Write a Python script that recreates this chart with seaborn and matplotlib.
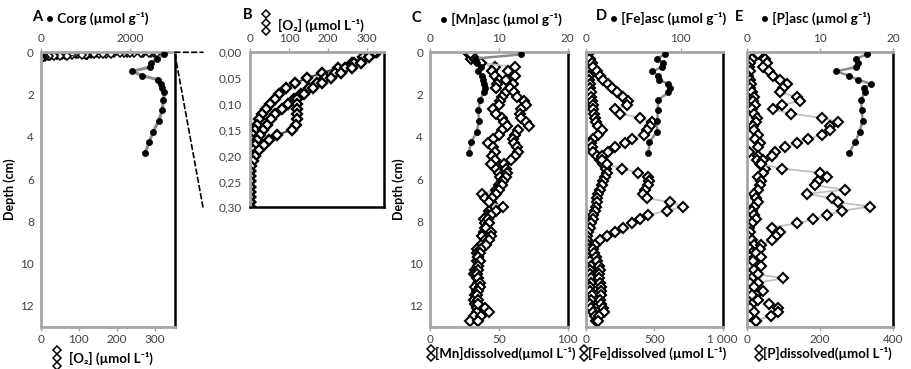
import matplotlib
matplotlib.use("Agg")
import matplotlib.pyplot as plt
from matplotlib.lines import Line2D
from matplotlib.patches import ConnectionPatch
from matplotlib.ticker import FuncFormatter
import seaborn as sns

# ---- solid phase (ascorbate extraction / Corg), depth in cm
asc_depth = [0.1, 0.3, 0.5, 0.7, 0.9, 1.1, 1.3, 1.5, 1.7, 1.9, 2.25, 2.75, 3.25, 3.75, 4.25, 4.75]
corg = [2770, 2600, 2480, 2450, 2040, 2270, 2630, 2690, 2720, 2770, 2750, 2720, 2640, 2520, 2430, 2340]
mn_asc = [13.2, 6.5, 6.8, 7.4, 6.9, 7.5, 7.7, 7.9, 8.0, 7.8, 7.3, 7.0, 7.1, 6.8, 6.0, 5.6]
fe_asc = [83, 75, 81, 80, 70, 76, 77, 87, 89, 87, 76, 76, 75, 75, 67, 66]
p_asc = [16.4, 14.9, 15.2, 14.9, 12.2, 13.9, 15.2, 17.0, 16.0, 16.1, 15.6, 15.7, 15.8, 15.4, 14.8, 14.0]

# ---- O2 microprofiles (3 replicates)
o2_depth = [0.00, 0.01, 0.02, 0.03, 0.04, 0.05, 0.06, 0.07, 0.08, 0.09, 0.10,
            0.11, 0.12, 0.13, 0.14, 0.15, 0.16, 0.17, 0.18, 0.19, 0.20,
            0.21, 0.22, 0.23, 0.24, 0.25, 0.26, 0.27, 0.28, 0.29, 0.30]
o2_1 = [326, 296, 262, 226, 185, 146, 115, 92, 75, 63, 52, 42, 32, 24, 17, 12, 8, 5, 3, 2, 1,
        1, 0, 0, 0, 0, 0, 0, 0, 0, 0]
o2_2 = [320, 290, 268, 245, 218, 193, 172, 152, 132, 112, 97, 82, 65, 55, 44, 34, 25, 18, 12, 7, 4,
        2, 1, 0, 0, 0, 0, 0, 0, 0, 0]
o2_3 = [322, 305, 285, 262, 235, 208, 185, 163, 140, 122, 120, 121, 120, 122, 118, 107, 70, 50, 35, 22, 12,
        7, 3, 1, 0, 0, 0, 0, 0, 0, 0]

# ---- porewater (dissolved), two gel profiles
pw_depth = [0.1, 0.3, 0.5, 0.7, 0.9, 1.1, 1.3, 1.5, 1.7, 1.9,
            2.1, 2.3, 2.5, 2.7, 2.9, 3.1, 3.3, 3.5, 3.7, 3.9,
            4.1, 4.3, 4.5, 4.7, 4.9, 5.1, 5.3, 5.5, 5.7, 5.9,
            6.1, 6.3, 6.5, 6.7, 6.9, 7.1, 7.3, 7.5, 7.7, 7.9,
            8.1, 8.3, 8.5, 8.7, 8.9, 9.1, 9.3, 9.5, 9.7, 9.9,
            10.1, 10.3, 10.5, 10.7, 10.9, 11.1, 11.3, 11.5, 11.7, 11.9,
            12.1, 12.3, 12.5, 12.7]
mn_1 = [28, 30, 36, 47, 45, 47, 50, 49, 48, 55,
        52, 51, 50, 46, 48, 52, 54, 56, 52, 50,
        46, 42, 46, 47, 45, 47, 44, 48, 50, 51,
        52, 50, 48, 38, 40, 44, 47, 43, 42, 39,
        40, 40, 39, 38, 40, 37, 34, 34, 35, 34,
        35, 33, 32, 34, 35, 33, 34, 33, 32, 33,
        34, 34, 32, 29]
mn_2 = [30, 33, 37, 62, 57, 62, 55, 60, 58, 61,
        63, 68, 70, 66, 65, 66, 70, 72, 64, 62,
        60, 61, 63, 64, 62, 59, 54, 55, 56, 55,
        53, 52, 50, 48, 45, 43, 53, 48, 44, 42,
        43, 41, 44, 44, 43, 41, 37, 36, 35, 36,
        35, 35, 34, 35, 36, 36, 35, 34, 35, 35,
        40, 43, 37, 35]
fe_1 = [7, 32, 19, 12, 19, 27, 27, 32, 32, 36,
        39, 44, 51, 56, 61, 68, 75, 92, 117, 92,
        56, 36, 44, 56, 80, 105, 129, 148, 153, 141,
        129, 117, 105, 92, 85, 80, 75, 68, 56, 51,
        41, 32, 19, 7, 12, 19, 27, 30, 35, 28,
        40, 35, 30, 42, 38, 30, 35, 45, 38, 30,
        40, 55, 65, 75]
fe_2 = [19, 27, 44, 56, 80, 105, 129, 165, 190, 226,
        275, 311, 299, 214, 250, 397, 482, 470, 445, 426,
        336, 287, 214, 165, 117, 117, 153, 263, 384, 457,
        465, 457, 433, 416, 450, 616, 713, 591, 457, 397,
        336, 275, 214, 158, 105, 68, 56, 60, 75, 85,
        100, 105, 100, 95, 105, 110, 115, 110, 105, 115,
        125, 130, 100, 90]
p_1 = [5, 15, 10, 5, 8, 3, 10, 12, 8, 15,
       20, 18, 22, 15, 20, 28, 25, 18, 20, 30,
       22, 35, 30, 5, 30, 28, 35, 50, 45, 30,
       40, 35, 30, 20, 25, 30, 20, 15, 20, 25,
       15, 5, 8, 3, 15, 20, 10, 15, 8, 12,
       5, 20, 10, 15, 8, 20, 10, 25, 5, 15,
       10, 20, 5, 25]
p_2 = [30, 50, 55, 45, 60, 73, 91, 110, 100, 91,
       136, 145, 95, 73, 120, 205, 250, 227, 227, 205,
       168, 136, 105, 77, 70, 45, 40, 95, 200, 218,
       195, 186, 268, 164, 232, 250, 336, 259, 218, 182,
       136, 68, 91, 80, 68, 40, 35, 25, 40, 18,
       38, 20, 30, 100, 30, 20, 45, 15, 30, 60,
       85, 85, 65, 25]

sns.set_style("white")
plt.rcParams['font.family'] = ['Lato', 'DejaVu Sans']

W, H = 912, 369
GRAY = '#a6a6a6'
LGRAY = '#c0c0c0'
TXT = '#404040'
TICK_FS = 8.5


def rect(l, t, r, b):
    return [l / W, 1 - b / H, (r - l) / W, (b - t) / H]


def diamonds(ax, x, y, lc=LGRAY, ms=4.8, mew=1.5, lw=1.3):
    sns.lineplot(x=x, y=y, sort=False, estimator=None, ax=ax, color=lc, lw=lw,
                 marker='D', markersize=ms, markerfacecolor='white',
                 markeredgecolor='black', markeredgewidth=mew)


def dots(ax, x, y, lc='#8c8c8c', lw=1.8):
    sns.lineplot(x=x, y=y, sort=False, estimator=None, ax=ax, color=lc, lw=lw,
                 marker='o', markersize=4.4, markerfacecolor='black',
                 markeredgecolor='black', markeredgewidth=0.5)


def frame(ax, bottom_black=False):
    for s in ['left', 'top', 'bottom']:
        ax.spines[s].set_color(GRAY)
        ax.spines[s].set_linewidth(2.0)
    ax.spines['right'].set_color('black')
    ax.spines['right'].set_linewidth(1.8)
    if bottom_black:
        ax.spines['bottom'].set_color('black')
        ax.spines['bottom'].set_linewidth(1.8)
    ax.tick_params(axis='both', length=3, width=1, color=GRAY, labelsize=TICK_FS,
                   labelcolor=TXT, pad=2)
    ax.set_xlabel('')
    ax.set_ylabel('')


def twin_top(ax, lim, ticks):
    axt = ax.twiny()
    for s in axt.spines.values():
        s.set_visible(False)
    axt.set_xlim(*lim)
    axt.set_xticks(ticks)
    axt.tick_params(axis='x', length=3, width=1, color=GRAY, labelsize=TICK_FS,
                    labelcolor=TXT, pad=3)
    return axt


fig = plt.figure(figsize=(W / 100, H / 100), dpi=100)

depth_ticks = [0, 2, 4, 6, 8, 10, 12]
panel_b = 327

# ---------- A
axA = fig.add_axes(rect(40.7, 52.3, 175, panel_b))
for o2 in (o2_1, o2_2, o2_3):
    diamonds(axA, o2, o2_depth, lc='#404040', ms=4.0, mew=1.1, lw=1.0)
frame(axA)
axA.set_xlim(0, 352)
axA.set_xticks([0, 100, 200, 300])
axAt = twin_top(axA, (0, 3008), [0, 2000])
dots(axAt, corg, asc_depth, lw=2.2)
axAt.set_xlabel('')
axA.set_ylim(13, 0)
axA.set_yticks(depth_ticks)
axA.set_ylabel('Depth (cm)', fontsize=9, fontweight='bold', color='black', labelpad=3)

# ---------- B
axB = fig.add_axes(rect(250, 52.3, 384.3, 207.3))
for o2 in (o2_1, o2_2, o2_3):
    diamonds(axB, o2, o2_depth, lc='#404040', ms=5.2, mew=1.7, lw=1.4)
frame(axB, bottom_black=True)
axB.set_xlim(0, 345)
axB.set_ylim(0.30, 0)
axB.set_xticks([0, 100, 200, 300])
axB.xaxis.set_ticks_position('top')
axB.tick_params(axis='x', pad=3)
axB.set_yticks([0, 0.05, 0.10, 0.15, 0.20, 0.25, 0.30])
axB.yaxis.set_major_formatter(FuncFormatter(lambda v, p: f"{v:.2f}".replace('.', ',')))
axB.tick_params(axis='y', length=0, pad=6)

# ---------- C, D, E
panels = [
    (430, 567.7, mn_1, mn_2, mn_asc, (0, 100), [0, 50, 100], ['0', '50', '100'], (0, 20), [0, 10, 20]),
    (585.7, 722.7, fe_1, fe_2, fe_asc, (0, 1000), [0, 500, 1000], ['0', '500', '1 000'], (0, 144), [0, 100]),
    (746.7, 893.3, p_1, p_2, p_asc, (0, 400), [0, 200, 400], ['0', '200', '400'], (0, 20), [0, 10, 20]),
]
for i, (l, r, d1, d2, asc, lim, ticks, labels, tlim, tticks) in enumerate(panels):
    ax = fig.add_axes(rect(l, 52.3, r, panel_b))
    diamonds(ax, d1, pw_depth)
    diamonds(ax, d2, pw_depth)
    frame(ax)
    ax.set_xlim(*lim)
    ax.set_xticks(ticks)
    ax.set_xticklabels(labels)
    axt = twin_top(ax, tlim, tticks)
    dots(axt, asc, asc_depth)
    axt.set_xlabel('')
    ax.set_ylim(13, 0)
    ax.set_yticks(depth_ticks)
    if i == 0:
        ax.set_ylabel('Depth (cm)', fontsize=9, fontweight='bold', color='black', labelpad=3)
    else:
        ax.tick_params(axis='y', labelleft=False, length=0)

# ---------- zoom connectors A -> B
for ya, yb in ((0.0, 1.0), (0.1, 0.0)):
    con = ConnectionPatch(xyA=(352, ya), coordsA='data', axesA=axA,
                          xyB=(-0.35, yb), coordsB='axes fraction', axesB=axB,
                          ls=(0, (3, 2)), lw=1.2, color='black')
    fig.add_artist(con)

# ---------- panel titles and axis captions
bold = dict(fontweight='bold', fontsize=9.8, color='black', va='center', ha='left')
cap = {**bold, 'fontsize': 9.5}
letter = {**bold, 'fontsize': 10.5}


def px(x, y):
    return x / W, 1 - y / H


def stack(x, ys):
    fig.add_artist(Line2D([x / W] * len(ys), [1 - y / H for y in ys], transform=fig.transFigure,
                          ls='none', marker='D', ms=3.6, mfc='white', mec='black', mew=1.1))


fig.text(*px(32, 17), 'A', **letter)
fig.text(*px(46, 18), '• Corg (µmol g⁻¹)', **bold)
fig.text(*px(243, 15), 'B', **letter)
stack(266, [14, 22.5, 31])
fig.text(*px(278, 25), '[O₂] (µmol L⁻¹)', **bold)
fig.text(*px(412, 18), 'C', **letter)
fig.text(*px(440, 19), '• [Mn]asc (µmol g⁻¹)', **bold)
fig.text(*px(596, 16), 'D', **letter)
fig.text(*px(610, 18), '• [Fe]asc (µmol g⁻¹)', **bold)
fig.text(*px(735, 17), 'E', **letter)
fig.text(*px(761, 18), '• [P]asc (µmol g⁻¹)', **bold)

stack(57, [350, 358, 366])
fig.text(*px(69, 358), '[O₂] (µmol L⁻¹)', **cap)
stack(431, [349, 357])
fig.text(*px(435, 353), '[Mn]dissolved(µmol L⁻¹)', **cap)
stack(584, [349, 357])
fig.text(*px(588, 353), '[Fe]dissolved (µmol L⁻¹)', **cap)
stack(759, [349, 357])
fig.text(*px(763, 353), '[P]dissolved(µmol L⁻¹)', **cap)

fig.savefig('out.png', dpi=100)
